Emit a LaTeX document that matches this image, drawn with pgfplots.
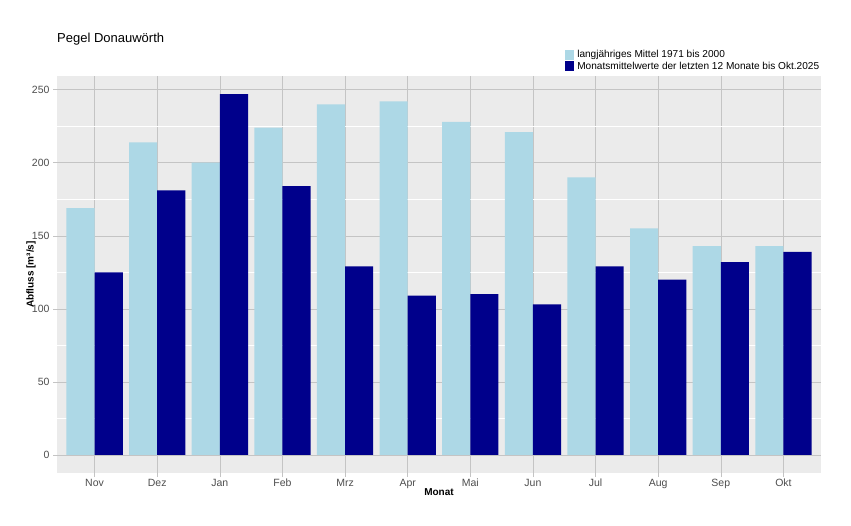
\documentclass[border=0pt]{standalone}
\usepackage{pgfplots}
\pgfplotsset{compat=1.18}
\usepackage{fontspec}
\setmainfont{Liberation Sans}
\definecolor{lightbar}{HTML}{ADD8E6}
\definecolor{darkbar}{HTML}{00008B}
\definecolor{panelbg}{HTML}{EBEBEB}
\definecolor{gridmajor}{HTML}{C4C4C4}
\definecolor{ticktext}{HTML}{4D4D4D}

% Monatsmittel Abfluss [m^3/s], Nov .. Okt
\pgfplotstableread{
x mittel aktuell
0  169 125
1  214 181
2  200 247
3  224 184
4  240 129
5  242 109
6  228 110
7  221 103
8  190 129
9  155 120
10 143 132
11 143 139
}\abfluss

\begin{document}
\begin{tikzpicture}
\path[use as bounding box] (-57pt,-52pt) rectangle (794pt,473pt);
\begin{axis}[
  at={(0pt,0pt)}, anchor=south west,
  scale only axis, width=764pt, height=397pt,
  xmin=-0.6, xmax=11.6, ymin=-12.35, ymax=259.35,
  axis background/.style={fill=panelbg},
  axis line style={draw=none},
  ybar, bar width=0.45,
  xtick={0,...,11},
  xticklabels={Nov,Dez,Jan,Feb,Mrz,Apr,Mai,Jun,Jul,Aug,Sep,Okt},
  ytick={0,50,...,250},
  minor ytick={25,75,...,225},
  grid=both,
  major grid style={gridmajor, line width=0.5pt},
  minor grid style={white, line width=0.5pt},
  tick pos=left,
  tick align=outside, major tick length=4pt, minor tick length=0pt,
  tick style={gridmajor, line width=0.5pt},
  ticklabel style={font=\fontsize{10.5}{12}\selectfont, text=ticktext},
  xticklabel style={yshift=1.5pt},
  /pgf/number format/assume math mode=true,
  title={Pegel Donauwörth},
  title style={at={(axis description cs:0,1)}, anchor=west, yshift=31pt,
    inner sep=0pt, font=\fontsize{13}{15}\selectfont},
  xlabel={Monat}, ylabel={Abfluss [m³/s]},
  label style={font=\bfseries\fontsize{10}{12}\selectfont},
  xlabel style={at={(axis description cs:0.5,0)}, anchor=center, yshift=-19pt},
  ylabel style={at={(axis description cs:-0.034,0.5)}, anchor=center},
  legend style={at={(axis description cs:0.665,1.068)}, anchor=north west,
    draw=none, fill=none, row sep=0pt, inner sep=0pt, column sep=2pt,
    cells={anchor=west}, font=\fontsize{10.1}{12}\selectfont,
    nodes={inner sep=1pt, text height=7.5pt, text depth=2pt}},
  legend image code/.code={\fill[#1] (0pt,-5pt) rectangle (9pt,5pt);},
]
\addplot[fill=lightbar, draw=none, bar shift=-0.225] table[x=x, y=mittel] {\abfluss};
\addlegendentry{langjähriges Mittel 1971 bis 2000}
\addplot[fill=darkbar, draw=none, bar shift=0.225] table[x=x, y=aktuell] {\abfluss};
\addlegendentry{Monatsmittelwerte der letzten 12 Monate bis Okt.2025}
\end{axis}
\end{tikzpicture}
\end{document}
